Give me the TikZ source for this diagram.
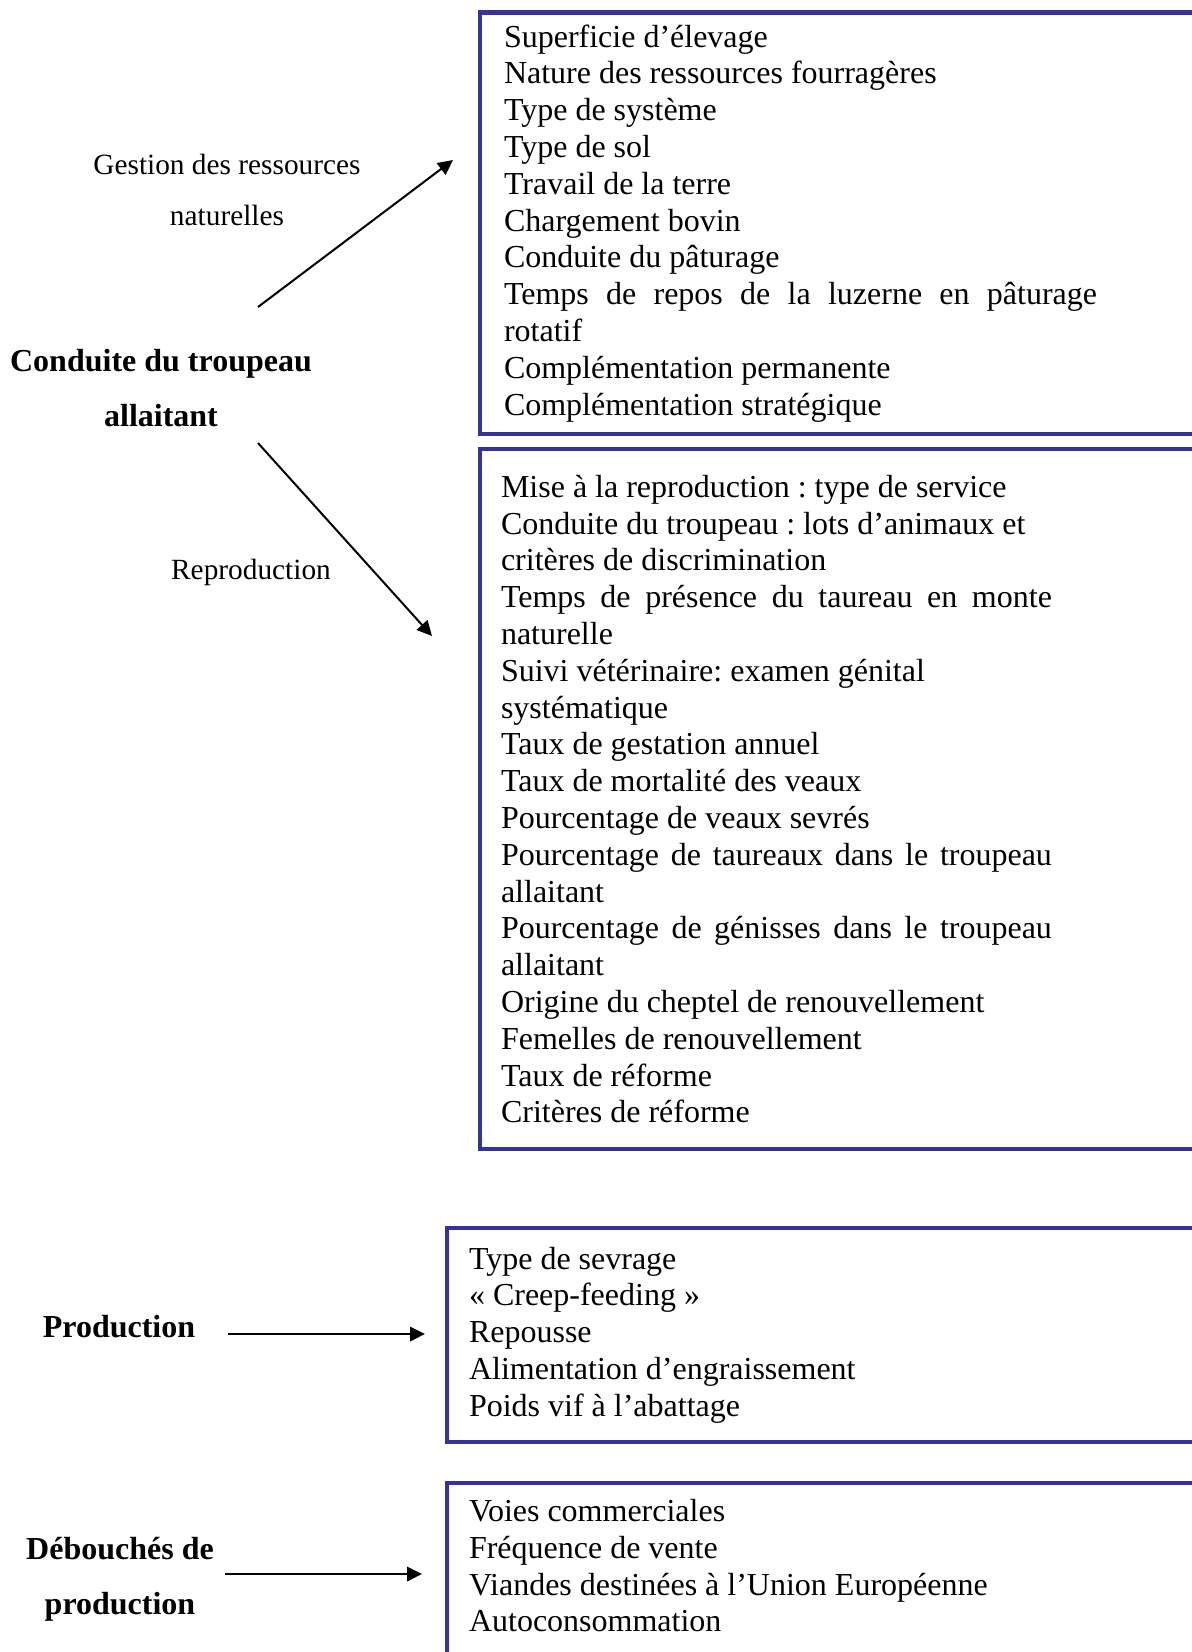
\documentclass[tikz,border=0pt]{standalone}
\usepackage{fontspec}
\setmainfont{Liberation Serif}
\usepackage{xcolor}
\usepackage{tikz}
\usetikzlibrary{positioning, arrows.meta}
\definecolor{boxblue}{RGB}{51,51,153}

\begin{document}
\begin{tikzpicture}[
    x=0.375pt, y=-0.375pt,
    listbox/.style={rectangle, draw=boxblue, line width=1.75pt, outer sep=0pt, anchor=north west, align=flush left, font=\fontsize{12}{13.8}\selectfont\frenchspacing},
    sidelabel/.style={align=flush center, font=\fontsize{11}{19}\selectfont},
    mainlabel/.style={align=flush center, font=\fontsize{12}{20.7}\selectfont\bfseries},
    arrowline/.style={line width=0.75pt, -{Triangle[length=5.6pt, width=5.4pt]}}
]
\clip (0,0) rectangle (1192,1652);
% boxes
\node[listbox, inner xsep=9pt, text width=267pt, minimum height=158.1pt](ressources) at (480,12.5){Superficie d’élevage\\Nature des ressources fourragères\\Type de système\\Type de sol\\Travail de la terre\\Chargement bovin\\Conduite du pâturage\\\makebox[222.4pt][s]{Temps de repos de la luzerne en pâturage}\\rotatif\\Complémentation permanente\\Complémentation stratégique};
\node[listbox, below = 5.6pt of ressources.south west, anchor=north west, inner xsep=7.875pt, text width=269.25pt, minimum height=262.5pt](reproduction){Mise à la reproduction : type de service\\Conduite du troupeau : lots d’animaux et\\critères de discrimination\\\makebox[206.6pt][s]{Temps de présence du taureau en monte}\\naturelle\\Suivi vétérinaire: examen génital\\systématique\\Taux de gestation annuel\\Taux de mortalité des veaux\\Pourcentage de veaux sevrés\\\makebox[206.6pt][s]{Pourcentage de taureaux dans le troupeau}\\allaitant\\\makebox[206.6pt][s]{Pourcentage de génisses dans le troupeau}\\allaitant\\Origine du cheptel de renouvellement\\Femelles de renouvellement\\Taux de réforme\\Critères de réforme};
\node[listbox, inner xsep=8.25pt, text width=280.9pt, minimum height=80.25pt](sevrage) at (447,1228){Type de sevrage\\«~Creep-feeding~»\\Repousse\\Alimentation d’engraissement\\Poids vif à l’abattage};
\node[listbox, inner xsep=8.25pt, text width=280.9pt, minimum height=66.4pt](vente) at (447,1483){Voies commerciales\\Fréquence de vente\\Viandes destinées à l’Union Européenne\\Autoconsommation\rule[-4.4pt]{0pt}{0pt}};
% labels
\node[mainlabel](troupeau) at (161,388){Conduite du troupeau\\allaitant};
\node[sidelabel](gestion) at (227,190){Gestion des ressources\\naturelles};
\node[sidelabel](repro) at (251,572){Reproduction};
\node[mainlabel](production) at (119,1327){Production};
\node[mainlabel](debouches) at (120,1579){Débouchés de\\production};
% arrows
\coordinate (troupeau-up) at (258,307);
\coordinate (gestion-tip) at (453,160);
\coordinate (troupeau-down) at (258,443);
\coordinate (repro-tip) at (432,636);
\coordinate (production-from) at (228,1334);
\coordinate (production-tip) at (425,1334);
\coordinate (debouches-from) at (225,1574);
\coordinate (debouches-tip) at (422,1574);
\draw[arrowline] (troupeau-up) -- (gestion-tip);
\draw[arrowline] (troupeau-down) -- (repro-tip);
\draw[arrowline] (production-from) -- (production-tip);
\draw[arrowline] (debouches-from) -- (debouches-tip);
\end{tikzpicture}
\end{document}
